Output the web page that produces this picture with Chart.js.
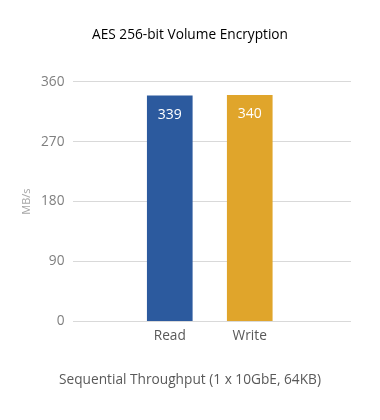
<!DOCTYPE html>
<html>
<head>
<meta charset="utf-8">
<script src="https://cdn.jsdelivr.net/npm/chart.js@4.4.0/dist/chart.umd.min.js"></script>
<style>
    html, body { margin: 0; padding: 0; background: #fff; }
    #wrap { width: 380px; height: 420px; }
</style>
</head>
<body>
<div id="wrap"><canvas id="c" width="380" height="420"></canvas></div>
<script>
// 数据
const categories = ['Read', 'Write']
const values = [339, 340]
const barColors = ['#2c5a9e', '#e0a52b']
const yTicks = [0, 90, 180, 270, 360]

const FONT = "'Open Sans', 'Noto Sans', sans-serif"
const SIZE = 13.7

// 柱内数值标签
const valueLabels = {
    id: 'valueLabels',
    afterDatasetsDraw(chart) {
        const ctx = chart.ctx
        const meta = chart.getDatasetMeta(0)
        ctx.save()
        ctx.fillStyle = '#ffffff'
        ctx.font = '14px ' + FONT
        ctx.textAlign = 'center'
        ctx.textBaseline = 'middle'
        meta.data.forEach((bar, i) => {
            ctx.fillText(String(values[i]), bar.x, bar.y + 19)
        })
        ctx.restore()
    }
}

new Chart(document.getElementById('c'), {
    type: 'bar',
    data: {
        datasets: [{
            data: categories.map((c, i) => ({x: i + 1, y: values[i]})),
            backgroundColor: barColors,
            barThickness: 45
        }]
    },
    options: {
        responsive: false,
        animation: false,
        layout: {padding: {left: 29, right: 29, top: 0, bottom: 32}},
        plugins: {
            legend: {display: false},
            tooltip: {enabled: false},
            title: {
                display: true,
                text: 'AES 256-bit Volume Encryption',
                color: '#000000',
                font: {family: FONT, size: SIZE, weight: 'normal'},
                padding: {top: 27, bottom: 38.5}
            },
            subtitle: { // 横轴说明
                display: true,
                position: 'bottom',
                text: 'Sequential Throughput (1 x 10GbE, 64KB)',
                color: '#595959',
                font: {family: FONT, size: SIZE},
                padding: {top: 20, bottom: 0}
            }
        },
        scales: {
            x: {
                type: 'linear',
                offset: false,
                min: -0.204,
                max: 3.266,
                grid: {display: false, drawTicks: false},
                border: {display: false},
                afterBuildTicks: scale => {
                    scale.ticks = categories.map((c, i) => ({value: i + 1}))
                },
                ticks: {
                    color: '#595959',
                    font: {family: FONT, size: SIZE},
                    padding: 7,
                    maxRotation: 0,
                    callback: v => categories[v - 1]
                }
            },
            y: {
                min: 0,
                max: 360,
                afterBuildTicks: scale => {
                    scale.ticks = yTicks.map(v => ({value: v}))
                },
                grid: {color: '#d9d9d9', drawTicks: false},
                border: {display: false},
                ticks: {
                    color: '#7f7f7f',
                    font: {family: FONT, size: SIZE},
                    padding: 9
                },
                title: {
                    display: true,
                    text: 'MB/s',
                    color: '#a6a6a6',
                    font: {family: FONT, size: 11},
                    padding: {top: -8.6, bottom: -1.6}
                }
            }
        }
    },
    plugins: [valueLabels]
})
</script>
</body>
</html>
